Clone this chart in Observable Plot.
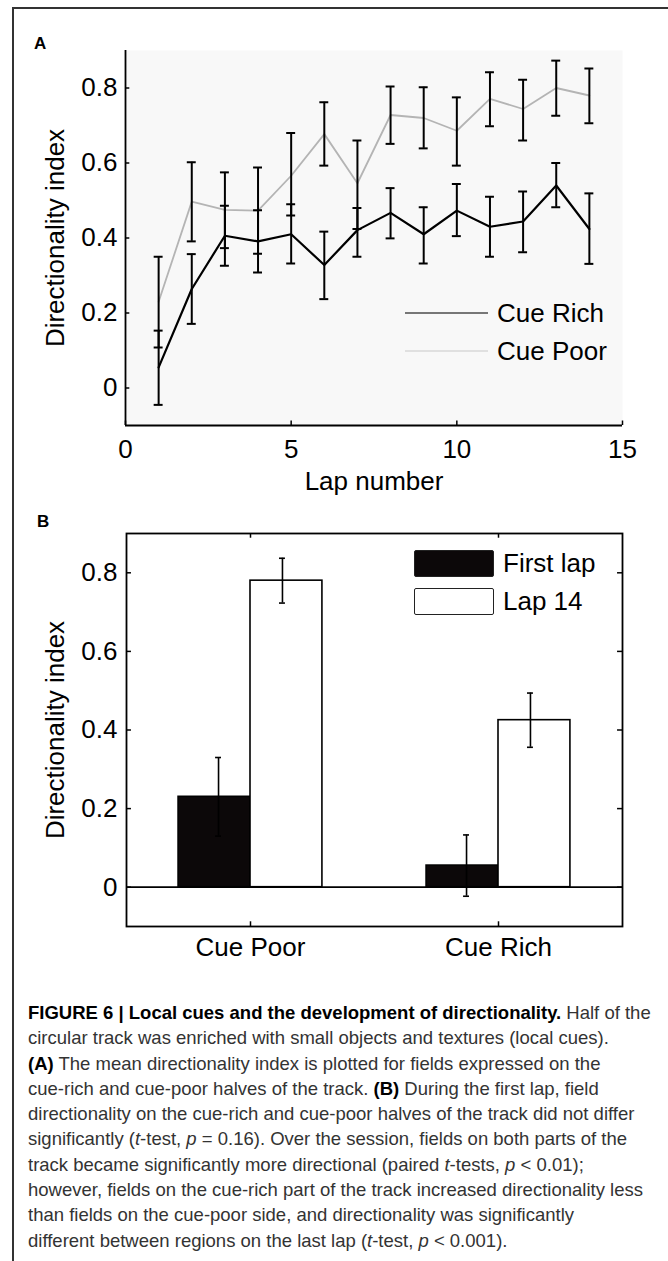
<!DOCTYPE html>
<html><head><meta charset="utf-8">
<script src="https://cdn.jsdelivr.net/npm/d3@7"></script>
<script src="https://cdn.jsdelivr.net/npm/@observablehq/plot@0.6"></script>
<style>
body{margin:0;background:#fff;}
#page{position:relative;width:668px;height:1261px;overflow:hidden;font-family:"Liberation Sans",Arial,Helvetica,sans-serif;color:#000;}
.abs{position:absolute;white-space:nowrap;line-height:1;}
#caption{position:absolute;left:28px;top:1000px;font-size:18.5px;line-height:25.3px;color:#333;white-space:nowrap;}
#caption b{color:#000;}
</style></head><body><div id="page">
<div class="abs" style="left:12px;top:7px;width:1.5px;height:1254px;background:#333"></div>
<div class="abs" style="left:12px;top:7px;width:656px;height:1.5px;background:#333"></div>
<div id="chartA" class="abs" style="left:0;top:0"></div>
<div id="chartB" class="abs" style="left:0;top:470px"></div>
<div class="abs" style="left:34px;top:34.6px;font-size:17px;font-weight:bold">A</div>
<div class="abs" style="left:37px;top:512.6px;font-size:17px;font-weight:bold">B</div>
<div id="legendA"></div>
<div id="legendB"></div>
<div id="caption"><b>FIGURE 6 | Local cues and the development of directionality.</b> Half of the<br>circular track was enriched with small objects and textures (local cues).<br><b>(A)</b> The mean directionality index is plotted for fields expressed on the<br>cue-rich and cue-poor halves of the track. <b>(B)</b> During the first lap, field<br>directionality on the cue-rich and cue-poor halves of the track did not differ<br>significantly (<i>t</i>-test, <i>p</i> = 0.16). Over the session, fields on both parts of the<br>track became significantly more directional (paired <i>t</i>-tests, <i>p</i> &lt; 0.01);<br>however, fields on the cue-rich part of the track increased directionality less<br>than fields on the cue-poor side, and directionality was significantly<br>different between regions on the last lap (<i>t</i>-test, <i>p</i> &lt; 0.001).</div>
</div>
<script>
// ---- Panel A data ----
const laps = [1,2,3,4,5,6,7,8,9,10,11,12,13,14];
const richMean = [0.055,0.264,0.406,0.391,0.41,0.328,0.421,0.467,0.41,0.473,0.43,0.444,0.54,0.424];
const richLow  = [-0.045,0.171,0.326,0.308,0.332,0.237,0.35,0.399,0.332,0.405,0.35,0.362,0.482,0.331];
const richHigh = [0.153,0.357,0.486,0.474,0.49,0.417,0.48,0.533,0.482,0.544,0.51,0.524,0.6,0.519];
const poorMean = [0.23,0.497,0.475,0.473,0.566,0.677,0.546,0.728,0.72,0.686,0.771,0.744,0.8,0.78];
const poorLow  = [0.108,0.391,0.373,0.358,0.46,0.593,0.424,0.651,0.639,0.593,0.698,0.66,0.726,0.706];
const poorHigh = [0.35,0.602,0.575,0.588,0.68,0.762,0.66,0.804,0.802,0.775,0.842,0.822,0.873,0.852];
const seriesA = ["Cue Rich","Cue Poor"];
const lapTicks = [0,5,10,15];
const yTicks = [0,0.2,0.4,0.6,0.8];

// ---- Panel B data ----
const barCategories = ["Cue Poor","Cue Rich"];
const barSeries = ["First lap","Lap 14"];
const firstLapMean = [0.23,0.055];
const firstLapErr  = [0.10,0.078];
const lap14Mean = [0.78,0.425];
const lap14Err  = [0.057,0.069];

const font = '"Liberation Sans",Arial,Helvetica,sans-serif';
const fmt = d => String(d);

const tableA = laps.flatMap((lap,i) => [
  {lap, series:"Cue Poor", mean:poorMean[i], lo:poorLow[i], hi:poorHigh[i]},
  {lap, series:"Cue Rich", mean:richMean[i], lo:richLow[i], hi:richHigh[i]}
]);
const capA = 0.135;

const plotA = Plot.plot({
  width:668, height:470, marginLeft:125, marginRight:46, marginTop:50, marginBottom:45,
  style:{fontFamily:font, fontSize:"26px", color:"#000", background:"transparent", overflow:"visible"},
  x:{domain:[0,15], ticks:lapTicks, tickSize:0, tickPadding:14, label:null, tickFormat:fmt},
  y:{domain:[-0.1,0.9], ticks:yTicks, tickSize:0, tickPadding:8, label:null, tickFormat:fmt},
  color:{domain:seriesA, range:["#000000","#b4b4b4"]},
  marks:[
    Plot.frame({fill:"#f8f8f8", stroke:null}),
    Plot.line(tableA.filter(d=>d.series==="Cue Poor"), {x:"lap", y:"mean", stroke:"series", strokeWidth:1.8}),
    Plot.line(tableA.filter(d=>d.series==="Cue Rich"), {x:"lap", y:"mean", stroke:"series", strokeWidth:2.2}),
    Plot.ruleX(tableA, {x:"lap", y1:"lo", y2:"hi", stroke:"#000", strokeWidth:2}),
    Plot.ruleY(tableA, {y:"lo", x1:d=>d.lap-capA, x2:d=>d.lap+capA, stroke:"#000", strokeWidth:2}),
    Plot.ruleY(tableA, {y:"hi", x1:d=>d.lap-capA, x2:d=>d.lap+capA, stroke:"#000", strokeWidth:2}),
    Plot.ruleX([0], {stroke:"#000", strokeWidth:1.8}),
    Plot.ruleY([-0.1], {stroke:"#000", strokeWidth:1.8}),
    Plot.ruleY(yTicks, {y:d=>d, x1:0, x2:0.13, stroke:"#000", strokeWidth:1.5}),
    Plot.ruleX(lapTicks, {x:d=>d, y1:-0.1, y2:-0.088, stroke:"#000", strokeWidth:1.5}),
    Plot.text(["Lap number"], {text:d=>d, frameAnchor:"bottom", lineAnchor:"middle", textAnchor:"middle", dy:56, fontSize:26}),
    Plot.text(["Directionality index"], {text:d=>d, frameAnchor:"left", textAnchor:"middle", lineAnchor:"middle", rotate:-90, dx:-70, fontSize:26})
  ]
});
document.getElementById("chartA").appendChild(plotA);

const barW = 0.29;
const capB = 0.012;
const tableB = barCategories.flatMap((cat,i) => [
  {cat, ci:i+1, series:barSeries[0], si:0, mean:firstLapMean[i], err:firstLapErr[i]},
  {cat, ci:i+1, series:barSeries[1], si:1, mean:lap14Mean[i], err:lap14Err[i]}
]);
const left = d => d.ci - barW + d.si*barW;
const center = d => left(d) + barW/2;
const errMarks = [0,1].flatMap(si => {
  const data = tableB.filter(d => d.si===si);
  const dx = si===0 ? 4 : -4;
  return [
    Plot.ruleX(data, {x:center, y1:d=>d.mean-d.err, y2:d=>d.mean+d.err, dx, stroke:"#000", strokeWidth:1.6}),
    Plot.ruleY(data, {y:d=>d.mean-d.err, x1:d=>center(d)-capB, x2:d=>center(d)+capB, dx, stroke:"#000", strokeWidth:1.6}),
    Plot.ruleY(data, {y:d=>d.mean+d.err, x1:d=>center(d)-capB, x2:d=>center(d)+capB, dx, stroke:"#000", strokeWidth:1.6})
  ];
});

const plotB = Plot.plot({
  width:668, height:500, marginLeft:126, marginRight:46, marginTop:63, marginBottom:44,
  style:{fontFamily:font, fontSize:"26px", color:"#000", background:"transparent", overflow:"visible"},
  x:{domain:[0.5,2.5], ticks:[1,2], tickSize:0, tickPadding:11, label:null, tickFormat:d=>barCategories[d-1]},
  y:{domain:[-0.1,0.9], ticks:yTicks, tickSize:0, tickPadding:9, label:null, tickFormat:fmt},
  color:{domain:barSeries, range:["#0c0809","#ffffff"]},
  marks:[
    Plot.rect(tableB, {x1:left, x2:d=>left(d)+barW, y1:0, y2:"mean", fill:"series", stroke:"#000", strokeWidth:1.6}),
    ...errMarks,
    Plot.ruleY([0], {stroke:"#000", strokeWidth:1.8}),
    Plot.frame({stroke:"#000", strokeWidth:1.8}),
    Plot.ruleY(yTicks, {y:d=>d, x1:0.5, x2:0.52, stroke:"#000", strokeWidth:1.5}),
    Plot.ruleY(yTicks, {y:d=>d, x1:2.48, x2:2.5, stroke:"#000", strokeWidth:1.5}),
    Plot.ruleX([1,2], {x:d=>d, y1:-0.1, y2:-0.088, stroke:"#000", strokeWidth:1.5}),
    Plot.ruleX([1,2], {x:d=>d, y1:0.9, y2:0.888, stroke:"#000", strokeWidth:1.5}),
    Plot.text(["Directionality index"], {text:d=>d, frameAnchor:"left", textAnchor:"middle", lineAnchor:"middle", rotate:-90, dx:-71, fontSize:26})
  ]
});
document.getElementById("chartB").appendChild(plotB);

// Legends (HTML)
const legA = document.getElementById("legendA");
const legAColors = ["#777777","#e0e0e0"];
seriesA.forEach((s,i) => {
  const y = 313 + i*38;
  const line = document.createElement("div");
  line.className = "abs";
  line.style.cssText = `left:405px;top:${y-1}px;width:83px;height:2.2px;background:${legAColors[i]}`;
  legA.appendChild(line);
  const t = document.createElement("div");
  t.className = "abs";
  t.style.cssText = `left:497px;top:${y+9.3-22}px;font-size:26px`;
  t.textContent = s;
  legA.appendChild(t);
});
const legB = document.getElementById("legendB");
const legBFill = ["#0c0809","#ffffff"];
barSeries.forEach((s,i) => {
  const y = 550 + i*37.5;
  const r = document.createElement("div");
  r.className = "abs";
  r.style.cssText = `left:414px;top:${y}px;width:78px;height:25px;background:${legBFill[i]};border:1.5px solid #222;border-radius:2px`;
  legB.appendChild(r);
  const t = document.createElement("div");
  t.className = "abs";
  t.style.cssText = `left:503px;top:${y}px;font-size:26px`;
  t.textContent = s;
  legB.appendChild(t);
});
</script>
</body></html>
